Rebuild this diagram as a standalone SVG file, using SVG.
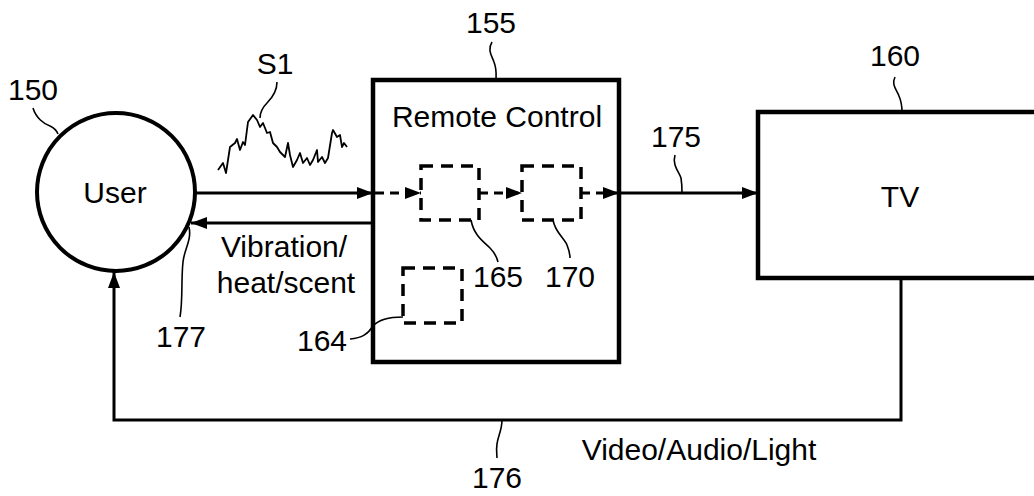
<svg xmlns="http://www.w3.org/2000/svg" width="1034" height="496" viewBox="0 0 1034 496">
<style>
text{font-family:"Liberation Sans",Arial,sans-serif;font-size:30px;fill:#000;text-anchor:middle}
.box{fill:#fff;stroke:#000;stroke-width:4.5}
.dbox{fill:none;stroke:#000;stroke-width:3.5;stroke-dasharray:12 8}
.ln{fill:none;stroke:#000;stroke-width:3}
.dl{fill:none;stroke:#000;stroke-width:3;stroke-dasharray:9 6}
.ld{fill:none;stroke:#000;stroke-width:1.6}
</style>
<defs>
<marker id="ah" markerWidth="16" markerHeight="12" refX="16" refY="6" orient="auto" markerUnits="userSpaceOnUse">
<path d="M0,0 L16,6 L0,12 Z" fill="#000"/>
</marker>
</defs>
<rect width="1034" height="496" fill="#fff"/>
<g id="user">
<circle cx="116" cy="192" r="79" fill="#fff" stroke="#000" stroke-width="4"/>
<text x="115" y="203">User</text>
<path class="ld" d="M33,108 C36,118 44,124 50,126 C54,128 57,131 58,134"/>
<text x="33" y="100">150</text>
</g>
<g id="remote">
<rect class="box" x="373" y="80" width="246" height="282"/>
<text x="497" y="127">Remote Control</text>
<path class="ld" d="M492,42 C487,50 492,56 494,62 C497,70 496,75 496,80"/>
<text x="491" y="33">155</text>
</g>
<g id="b165">
<rect class="dbox" x="421" y="166" width="58" height="54"/>
<path class="ld" d="M471,220 C474,236 484,242 490,248 C495,253 497,258 498,262"/>
<text x="498" y="287">165</text>
</g>
<g id="b170">
<rect class="dbox" x="522" y="166" width="59" height="54"/>
<path class="ld" d="M553,220 C555,232 564,238 567,245 C569,250 570,254 570,258"/>
<text x="570" y="287">170</text>
</g>
<g id="b164">
<rect class="dbox" x="403" y="268" width="59" height="55"/>
<path class="ld" d="M350,339 C362,338 368,334 373,326 C380,318 392,317 403,317"/>
<text x="322" y="351">164</text>
</g>
<g id="tv">
<rect class="box" x="758" y="112" width="290" height="166"/>
<text x="900" y="207">TV</text>
<path class="ld" d="M895,77 C891,85 897,90 899,96 C902,103 902,108 902,112"/>
<text x="895" y="66">160</text>
</g>
<g id="s1">
<polyline fill="none" stroke="#000" stroke-width="1.8" stroke-linejoin="round" points="218,170 223,163 226,173 230,147 235,143 237,139 240,150 243,142 245,145 248,122 253,115 257,120 260,127 263,123 267,133 270,132 273,143 277,147 280,152 285,157 288,143 290,155 293,167 297,160 300,153 303,163 307,158 310,165 313,160 317,150 318,162 322,157 325,163 328,158 332,133 333,130 337,137 340,135 342,147 344,143 347,147"/>
<path class="ld" d="M277,82 C277,92 272,98 267,103 C262,108 260,113 260,118"/>
<text x="275" y="74">S1</text>
</g>
<g id="connectors">
<line class="ln" x1="196" y1="193" x2="373" y2="193" marker-end="url(#ah)"/>
<line class="ln" x1="373" y1="223" x2="191" y2="223" marker-end="url(#ah)"/>
<line class="dl" x1="375" y1="193" x2="421" y2="193" marker-end="url(#ah)"/>
<line class="dl" x1="479" y1="193" x2="522" y2="193" marker-end="url(#ah)"/>
<line class="dl" x1="581" y1="193" x2="619" y2="193" marker-end="url(#ah)"/>
<line class="ln" x1="619" y1="193" x2="758" y2="193" marker-end="url(#ah)"/>
<polyline class="ln" points="901,278 901,420 114,420 114,272" marker-end="url(#ah)"/>
<path class="ld" d="M189,227 C192,240 184,250 183,262 C181,280 183,300 180,317"/>
<path class="ld" d="M675,155 C672,165 679,172 681,178 C682,184 682,189 682,193"/>
<path class="ld" d="M502,420 C502,430 498,436 497,444 C496,450 497,455 497,458"/>
<text x="181" y="347">177</text>
<text x="676" y="147">175</text>
<text x="497" y="488">176</text>
<text x="284" y="257">Vibration/</text>
<text x="286" y="293">heat/scent</text>
<text x="699" y="460">Video/Audio/Light</text>
</g>
</svg>
